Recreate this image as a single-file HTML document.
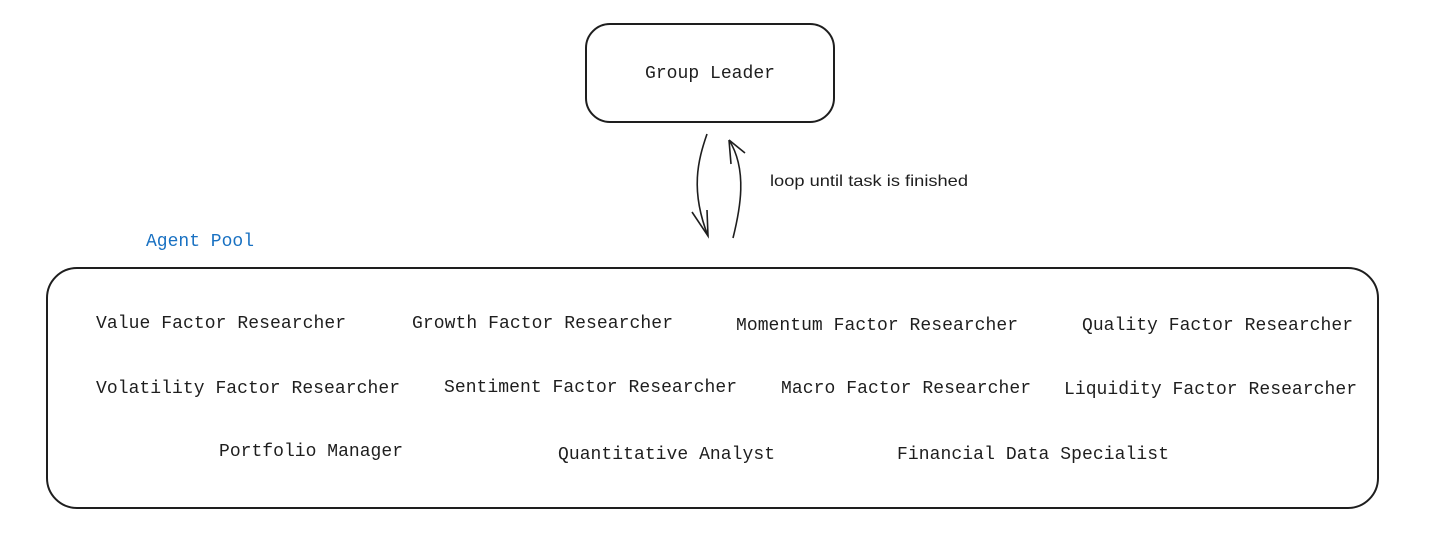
<!DOCTYPE html>
<html><head><style>html,body{margin:0;padding:0;background:#fff}</style></head>
<body>
<svg width="1429" height="539" viewBox="0 0 1429 539" xmlns="http://www.w3.org/2000/svg" font-family="Liberation Mono, monospace" font-size="18" fill="#1e1e1e">
<rect x="586" y="24" width="248" height="98" rx="24" fill="none" stroke="#1e1e1e" stroke-width="2"/>
<text x="710" y="78" text-anchor="middle" textLength="130" lengthAdjust="spacingAndGlyphs">Group Leader</text>
<path d="M707,134 C698,160 690,190 708,236" fill="none" stroke="#1e1e1e" stroke-width="1.6"/>
<path d="M692,212 L708,236 L707,210" fill="none" stroke="#1e1e1e" stroke-width="1.6"/>
<path d="M733,238 C740,210 748,170 729,140" fill="none" stroke="#1e1e1e" stroke-width="1.6"/>
<path d="M729,140 L745,153 M729,140 L731,164" fill="none" stroke="#1e1e1e" stroke-width="1.6"/>
<text x="770" y="186" font-family="Liberation Sans, sans-serif" font-size="16" textLength="198" lengthAdjust="spacingAndGlyphs">loop until task is finished</text>
<text x="146" y="246" fill="#1971c2" textLength="108" lengthAdjust="spacingAndGlyphs">Agent Pool</text>
<rect x="47" y="268" width="1331" height="240" rx="30" fill="none" stroke="#1e1e1e" stroke-width="2"/>
<g lengthAdjust="spacingAndGlyphs">
<text x="96" y="328" textLength="250">Value Factor Researcher</text>
<text x="412" y="328" textLength="261">Growth Factor Researcher</text>
<text x="736" y="330" textLength="282">Momentum Factor Researcher</text>
<text x="1082" y="330" textLength="271">Quality Factor Researcher</text>
<text x="96" y="393" textLength="304">Volatility Factor Researcher</text>
<text x="444" y="392" textLength="293">Sentiment Factor Researcher</text>
<text x="781" y="393" textLength="250">Macro Factor Researcher</text>
<text x="1064" y="394" textLength="293">Liquidity Factor Researcher</text>
<text x="219" y="456" textLength="184">Portfolio Manager</text>
<text x="558" y="459" textLength="217">Quantitative Analyst</text>
<text x="897" y="459" textLength="272">Financial Data Specialist</text>
</g>
</svg>
</body></html>
